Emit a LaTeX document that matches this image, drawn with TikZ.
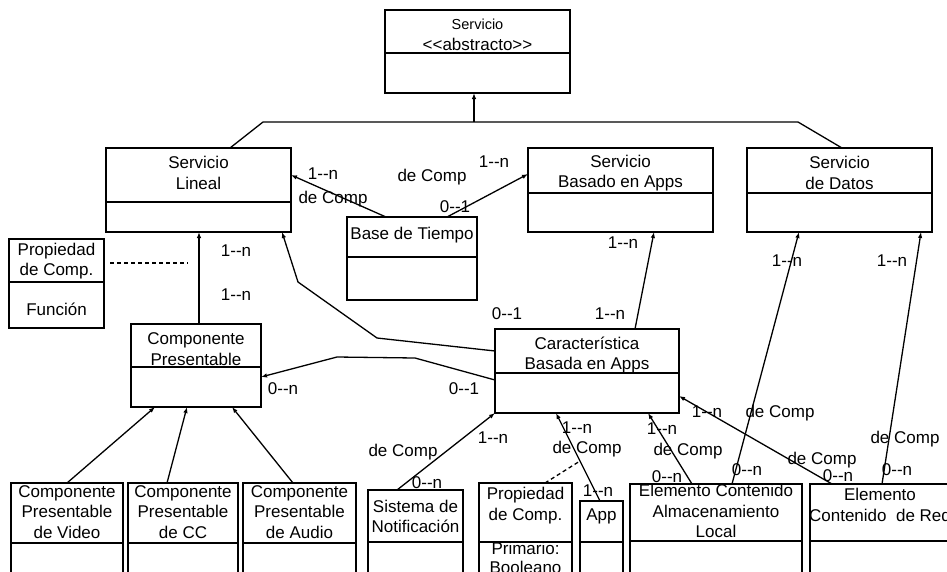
\documentclass[tikz,border=0pt]{standalone}
\usepackage{fontspec}
\setmainfont{Liberation Sans}[Ligatures=TeXOff]
\usetikzlibrary{arrows.meta,calc}

\tikzset{
  classframe/.style={draw, line width=1.5pt, inner sep=0pt, outer sep=0pt},
  classrule/.style={line width=1.3pt},
  classtext/.style={align=center, inner sep=0pt, font=\fontsize{17}{20.5}\selectfont},
  mult/.style={inner sep=0pt, font=\fontsize{17}{20}\selectfont},
  assoc/.style={line width=1.3pt, -{Latex[length=6pt,width=4.5pt]}},
  plainlink/.style={line width=1.3pt},
  dashlink/.style={line width=1.3pt, dash pattern=on 4pt off 3pt},
}

% #1 name, #2 x, #3 y (top left), #4 width, #5 height,
% #6 depth of the compartment rule, #7 depth of the name's centre, #8 name
\newcommand\umlclass[8]{%
  \node[classframe, minimum width=#4pt, minimum height=#5pt, anchor=north west] (#1) at (#2,#3) {};
  \draw[classrule] ([yshift=-#6pt]#1.north west) -- ([yshift=-#6pt]#1.north east);
  \node[classtext] (#1-name) at ([yshift=-#7pt]#1.north) {#8};
}

\begin{document}
\begin{tikzpicture}[x=1pt, y=-1pt]
\useasboundingbox (0,0) rectangle (947,571);
\clip (0,0) rectangle (947,571);

% abstract root class
\node[classframe, minimum width=185pt, minimum height=83pt, anchor=north west] (serv) at (385,10) {};
\draw[classrule] ([yshift=-43pt]serv.north west) -- ([yshift=-43pt]serv.north east);
\node[classtext] (serv-name) at ([yshift=-25pt]serv.north)
  {{\fontsize{14.5}{22}\selectfont Servicio}\\{\fontsize{17}{22}\selectfont <<abstracto>>}};

% service classes
\umlclass{lineal}{106}{148}{185}{84}{54}{25}{Servicio\\Lineal}
\umlclass{basado}{528}{148}{185}{84}{45}{25}{Servicio\\Basado en Apps}
\umlclass{datos}{747}{148}{185}{84}{45}{25}{Servicio\\de Datos}
\umlclass{tiempo}{347}{217}{130}{83}{40}{18}{Base de Tiempo}

% property of the component link
\umlclass{propL}{9}{239}{95}{89}{43}{22}{Propiedad\\de Comp.}
\node[classtext] (propL-val) at ([yshift=-70pt]propL.north) {Función};

\umlclass{compP}{131}{324}{130}{83}{43}{25}{Componente\\Presentable}
\umlclass{caract}{495}{329}{184}{84}{44}{26}{Característica\\Basada en Apps}

% bottom row
\umlclass{video}{11}{483}{112}{120}{60}{29}{Componente\\Presentable\\de Video}
\umlclass{cc}{128}{483}{110}{120}{60}{29}{Componente\\Presentable\\de CC}
\umlclass{audio}{243}{483}{113}{120}{60}{29}{Componente\\Presentable\\de Audio}
\umlclass{notif}{368}{490}{95}{120}{52}{26.5}{Sistema de\\Notificación}
\umlclass{propB}{479}{483}{93}{120}{59}{22.5}{Propiedad\\de Comp.}
\node[classtext, font=\fontsize{17}{19}\selectfont] (propB-val) at ([yshift=-75pt]propB.north) {Primario:\\Booleano};
\umlclass{app}{580}{501}{43}{100}{41}{15}{App}
\umlclass{local}{630}{484}{172}{120}{57}{27}{Elemento Contenido\\Almacenamiento\\Local}
\umlclass{red}{810}{484}{140}{120}{57}{21}{Elemento\\Contenido\ \ de Red}

% generalisation tree
\coordinate (gen) at (474,122);
\coordinate (genL) at (263,122);
\coordinate (genR) at (798,122);
\draw[plainlink] ([xshift=124pt]lineal.north west) -- (genL) -- (genR) -- ([xshift=95pt]datos.north west);
\draw[assoc] (gen) -- (gen |- serv.south);

% associations
\draw[assoc] ([xshift=68pt]compP.north west) -- ([xshift=93pt]lineal.south west);
\draw[assoc] ([xshift=39pt]tiempo.north west) -- ([yshift=-27pt]lineal.north east);
\draw[assoc] ([xshift=100pt]tiempo.north west) -- ([yshift=-26pt]basado.north west);
\draw[assoc] ([xshift=140pt]caract.north west) -- ([xshift=126pt]basado.south west);
\draw[assoc] ([yshift=-22pt]caract.north west) -- (377,338) -- (298,282) -- ([xshift=176pt]lineal.south west);
\draw[assoc] ([yshift=-51pt]caract.north west) -- (415,358) -- (337,357) -- ([yshift=-53pt]compP.north east);
\draw[assoc] ([xshift=56pt]video.north west) -- ([xshift=24pt]compP.south west);
\draw[assoc] ([xshift=39pt]cc.north west) -- ([xshift=56pt]compP.south west);
\draw[assoc] ([xshift=50pt]audio.north west) -- ([xshift=101pt]compP.south west);
\draw[assoc] ([xshift=29pt]notif.north west) -- (caract.south west);
\draw[assoc] ([xshift=20pt]app.north west) -- ([xshift=61pt]caract.south west);
\draw[assoc] ([xshift=62pt]local.north west) -- ([xshift=153pt]caract.south west);
\draw[assoc] ([xshift=102pt]local.north west) -- ([xshift=52pt]datos.south west);
\draw[assoc] ([xshift=22pt]red.north west) -- ([yshift=-67pt]caract.north east);
\draw[assoc] ([xshift=72pt]red.north west) -- ([xshift=174pt]datos.south west);

% dashed links to the link properties
\coordinate (dl1) at (110,263);
\coordinate (dl2) at (188,263);
\draw[dashlink] (dl1) -- (dl2);
\coordinate (db2) at (580,461);
\draw[dashlink] ([xshift=66pt]propB.north west) -- (db2);

% multiplicities and roles
\node[mult] (m1)  at (323,174) {1-{}-n};
\node[mult] (m2)  at (333,199) {de Comp};
\node[mult] (m3)  at (432,177) {de Comp};
\node[mult] (m4)  at (494,162) {1-{}-n};
\node[mult] (m5)  at (455,207) {0-{}-1};
\node[mult] (m6)  at (236,251) {1-{}-n};
\node[mult] (m7)  at (236,295) {1-{}-n};
\node[mult] (m8)  at (623,243) {1-{}-n};
\node[mult] (m9)  at (787,261) {1-{}-n};
\node[mult] (m10) at (892,261) {1-{}-n};
\node[mult] (m11) at (507,314) {0-{}-1};
\node[mult] (m12) at (610,314) {1-{}-n};
\node[mult] (m13) at (283,389) {0-{}-n};
\node[mult] (m14) at (464,389) {0-{}-1};
\node[mult] (m15) at (403,452) {de Comp};
\node[mult] (m16) at (493,438) {1-{}-n};
\node[mult] (m17) at (427,483) {0-{}-n};
\node[mult] (m18) at (577,428) {1-{}-n};
\node[mult] (m19) at (587,449) {de Comp};
\node[mult] (m20) at (598,491) {1-{}-n};
\node[mult] (m21) at (662,429) {1-{}-n};
\node[mult] (m22) at (688,451) {de Comp};
\node[mult] (m23) at (667,477) {0-{}-n};
\node[mult] (m24) at (747,470) {0-{}-n};
\node[mult] (m25) at (780,413) {de Comp};
\node[mult] (m26) at (707,412) {1-{}-n};
\node[mult] (m27) at (822,460) {de Comp};
\node[mult] (m28) at (838,476) {0-{}-n};
\node[mult] (m29) at (905,439) {de Comp};
\node[mult] (m30) at (897,470) {0-{}-n};
\end{tikzpicture}
\end{document}
